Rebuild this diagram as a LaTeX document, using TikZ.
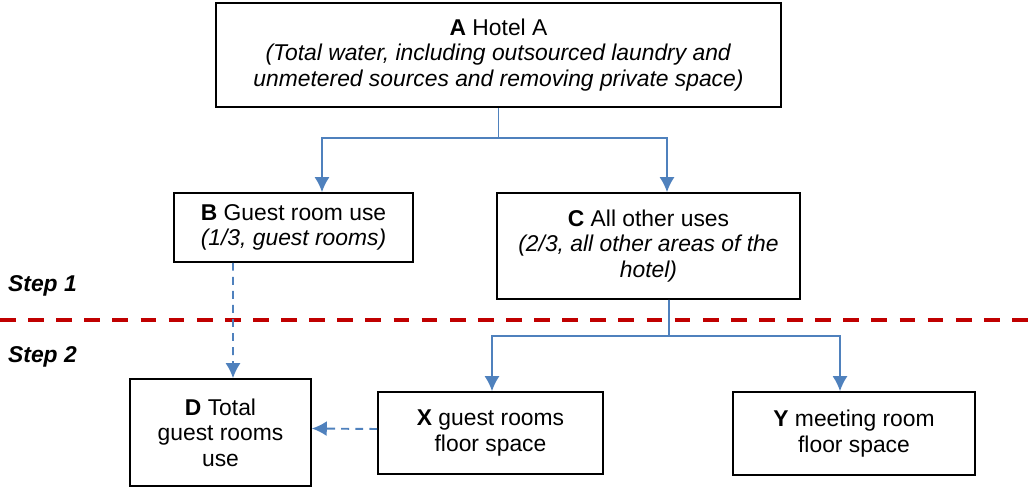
\documentclass[tikz,border=0pt]{standalone}
\usepackage{fontspec}
\setmainfont{Liberation Sans}
\usepackage{tikz}
\usetikzlibrary{arrows.meta}
\usetikzlibrary{calc}

\definecolor{flowblue}{RGB}{79,129,189}
\definecolor{cutred}{RGB}{192,0,0}

\tikzset{
  box/.style={draw, line width=0.9pt, inner sep=0pt, align=center,
    font=\fontsize{13}{14.6}\selectfont},
  flow/.style={draw=flowblue, line width=1.1pt},
  flowarrow/.style={flow, -{Latex[length=3mm,width=3mm]}},
  flowdash/.style={flowarrow, dash pattern=on 4.5pt off 3.5pt},
  cutline/.style={draw=cutred, line width=2.3pt, dash pattern=on 9pt off 7pt},
  steplabel/.style={anchor=west, font=\fontsize{13}{15}\selectfont\bfseries\itshape}
}

\begin{document}
\begin{tikzpicture}[x=0.02cm, y=-0.02cm]
\useasboundingbox (0,0) rectangle (1034,487);

\path (498.5,55) node[box, minimum width=11.3cm, minimum height=2.08cm] (A)
  {\textbf{A} Hotel A\\ \textit{(Total water, including outsourced laundry and}\\
   \textit{unmetered sources and removing private space)}};
\path (293.5,227.5) node[box, minimum width=4.78cm, minimum height=1.38cm] (B)
  {\textbf{B} Guest room use\\ \textit{(1/3, guest rooms)}};
\path (648.5,246) node[box, minimum width=6.06cm, minimum height=2.12cm] (C)
  {\textbf{C} All other uses\\ \textit{(2/3, all other areas of the}\\ \textit{hotel)}};
\path (220.5,432.5) node[box, minimum width=3.62cm, minimum height=2.14cm] (D)
  {\textbf{D} Total\\ guest rooms\\ use};
\path (490.5,433) node[box, minimum width=4.5cm, minimum height=1.64cm] (X)
  {\textbf{X} guest rooms\\ floor space};
\path (854,433.5) node[box, minimum width=4.84cm, minimum height=1.66cm] (Y)
  {\textbf{Y} meeting room\\ floor space};

\path (2,286) node[steplabel] (s1) {Step 1};
\path (2,357) node[steplabel] (s2) {Step 2};

\coordinate (cutL) at (0,320);
\coordinate (cutR) at (1034,320);
\draw[cutline] (cutL) -- (cutR);

\coordinate (hubA) at (498.5,138);
\coordinate (hubC) at (669,336);

\draw[flow] (A.south) -- (hubA);
\draw[flowarrow] (hubA) -| ([xshift=0.57cm]B.north);
\draw[flowarrow] (hubA) -| ([xshift=0.37cm]C.north);

\draw[flow] ([xshift=0.41cm]C.south) -- (hubC);
\draw[flowarrow] (hubC) -| ([xshift=0.03cm]X.north);
\draw[flowarrow] (hubC) -| ([xshift=-0.28cm]Y.north);

\draw[flowdash] ([xshift=-1.21cm]B.south) -- ([xshift=0.25cm]D.north);
\draw[flowdash] ([yshift=0.08cm]X.west) -- ([yshift=0.08cm]D.east);

\end{tikzpicture}
\end{document}
